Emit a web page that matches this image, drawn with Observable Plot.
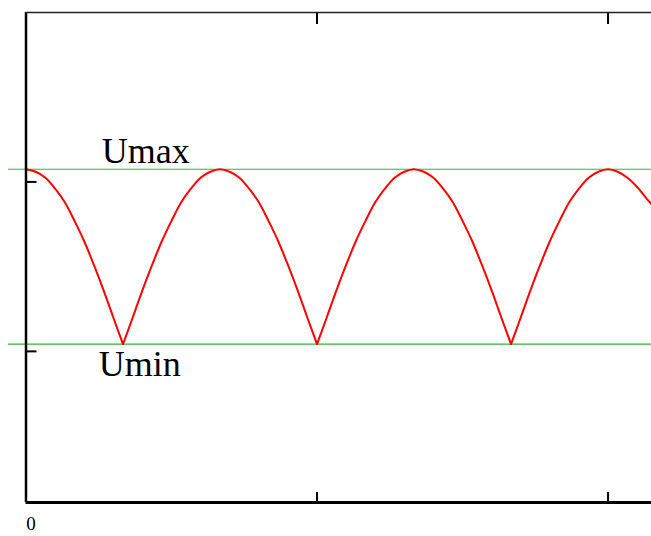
<!DOCTYPE html>
<html><head><meta charset="utf-8">
<script src="https://cdn.jsdelivr.net/npm/d3@7"></script>
<script src="https://cdn.jsdelivr.net/npm/@observablehq/plot@0.6"></script>
<style>html,body{margin:0;padding:0;background:#fff;} svg{display:block}</style>
</head><body><div id="chart"></div>
<script>
// time in ms
const timeMs = [0,0.5,1,1.5,2,2.5,3,3.5,4,4.5,5,5.5,6,6.5,7,7.5,8,8.5,9,9.5,
  10,10.5,11,11.5,12,12.5,13,13.5,14,14.5,15,15.5,16,16.5,17,17.5,18,18.5,19,19.5,
  20,20.5,21,21.5,22,22.5,23,23.5,24,24.5,25,25.5,26,26.5,27,27.5,28,28.5,29,29.5,
  30,30.5,31,31.5,32,32.24];
const voltage = [207.5,206,202.5,196,188,177,165,151,136,120,104.3,120,136,151,165,177,188,196,202.5,206,
  207.5,206,202.5,196,188,177,165,151,136,120,104.3,120,136,151,165,177,188,196,202.5,206,
  207.5,206,202.5,196,188,177,165,151,136,120,104.3,120,136,151,165,177,188,196,202.5,206,
  207.5,206,202.5,197,190,187];
const levelNames = ["Umax", "Umin"];
const levelValues = [207.5, 104.3];
const labelX = [3.9, 3.75];
const xTicks = [15, 30];
const yTicks = [100, 200];
const xDomain = [0, 32.24];
const yDomain = [10.8, 300];
const lineStart = -0.9;

// split the rectified wave into arcs at its cusps (local minima), sharing each cusp point
const series = [];
let arc = 0;
timeMs.forEach((t, i) => {
  series.push({t, u: voltage[i], arc});
  const prev = voltage[i - 1], next = voltage[i + 1];
  if (prev !== undefined && next !== undefined && voltage[i] < prev && voltage[i] < next) {
    arc++;
    series.push({t, u: voltage[i], arc});
  }
});
const levels = levelNames.map((name, i) => ({name, u: levelValues[i], x: labelX[i]}));

const chart = Plot.plot({
  width: 651, height: 536,
  marginLeft: 25.5, marginRight: 0, marginTop: 12, marginBottom: 34,
  x: {domain: xDomain, label: null},
  y: {domain: yDomain, label: null},
  style: {fontFamily: "'Liberation Serif', 'Times New Roman', serif", background: "#fff", color: "#000"},
  marks: [
    Plot.ruleY(levels, {y: "u", x1: lineStart, x2: xDomain[1], stroke: "#2fb53f", strokeWidth: 1.2}),
    Plot.line(series, {x: "t", y: "u", z: "arc", curve: "catmull-rom", stroke: "#ff0000", strokeWidth: 2}),
    Plot.ruleX([0], {strokeWidth: 2.5, stroke: "#000"}),
    Plot.ruleY([yDomain[0]], {strokeWidth: 3, stroke: "#000"}),
    Plot.ruleY([yDomain[1]], {strokeWidth: 1.6, stroke: "#222"}),
    Plot.axisY(yTicks, {anchor: "left", tickSize: -11, tickFormat: () => "", strokeWidth: 2, label: null}),
    Plot.axisX(xTicks, {anchor: "bottom", tickSize: -10, tickFormat: () => "", strokeWidth: 2, label: null}),
    Plot.axisX(xTicks, {anchor: "top", tickSize: -11, tickFormat: () => "", strokeWidth: 2, label: null}),
    Plot.text([0], {x: d => d, frameAnchor: "bottom", text: d => String(d), lineAnchor: "top", dy: 14, dx: 5, fontSize: 19, fill: "#000"}),
    Plot.text([levels[0]], {x: "x", y: "u", text: "name", textAnchor: "start", lineAnchor: "bottom", dy: -6.7, fontSize: 36, fill: "#000"}),
    Plot.text([levels[1]], {x: "x", y: "u", text: "name", textAnchor: "start", lineAnchor: "bottom", dy: 32, fontSize: 36, fill: "#000"})
  ]
});
document.getElementById("chart").appendChild(chart);
</script>
</body></html>
